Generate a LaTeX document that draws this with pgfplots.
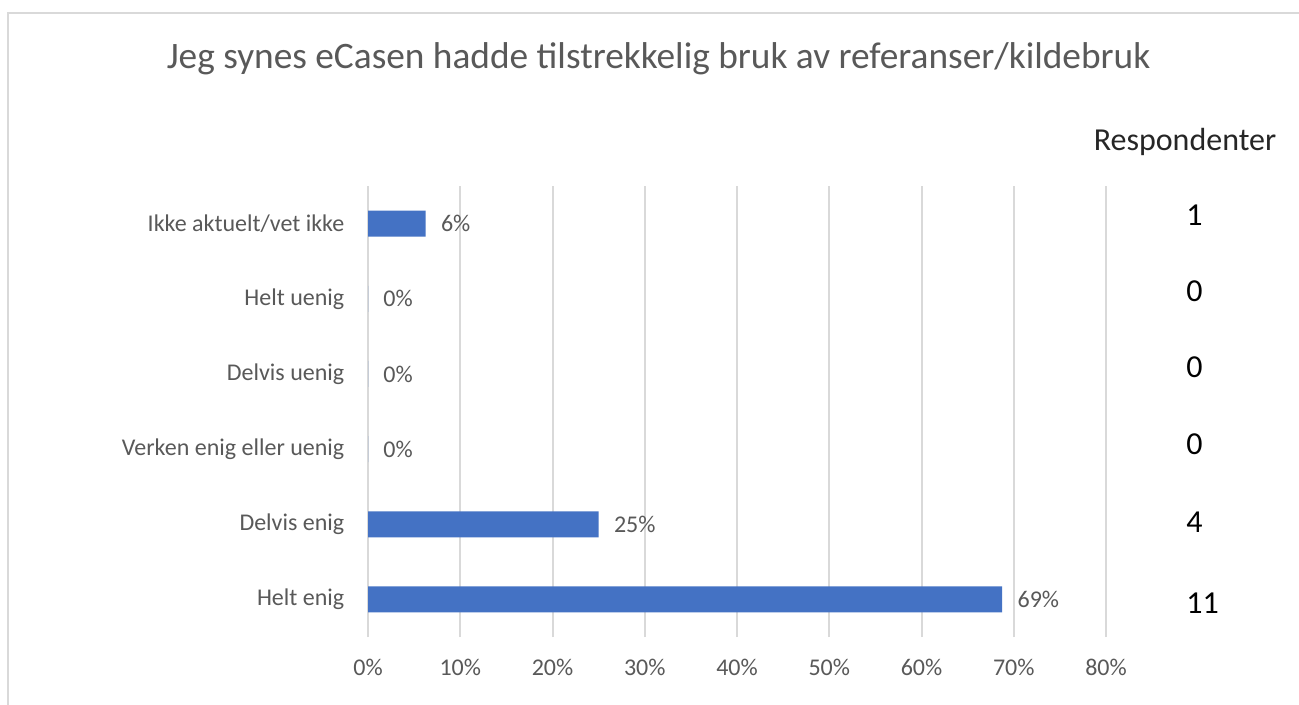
\documentclass[border=0pt]{standalone}
\usepackage{pgfplots}
\pgfplotsset{compat=1.18}
\usepackage{fontspec}
\setmainfont{Carlito}
\definecolor{barblue}{HTML}{4472C4}
\definecolor{txtgray}{HTML}{595959}
\definecolor{gridgray}{HTML}{D9D9D9}
\begin{document}
\begin{tikzpicture}[x=0.75pt,y=0.75pt]
\useasboundingbox (0,0) rectangle (1299,704);
\fill[white] (0,0) rectangle (1299,704);
\draw[gridgray, line width=1.5] (8,-5) -- (8,691) -- (1305,691);
\node[txtgray, font=\fontsize{28}{33}\selectfont] at (658.5,645) {Jeg synes eCasen hadde tilstrekkelig bruk av referanser/kildebruk};
\node[black!85, font=\fontsize{24}{28}\selectfont] at (1185,562) {Respondenter};
\begin{axis}[
  at={(276pt,50.25pt)}, anchor=south west,
  scale only axis, width=553.5pt, height=338.25pt,
  xmin=0, xmax=80, ymin=-0.5, ymax=5.5,
  xbar, bar width=19.5pt,
  axis line style={draw=none}, major tick style={draw=none},
  xmajorgrids, grid style={gridgray, line width=1.5pt},
  xtick={0,10,...,80},
  xticklabel={\pgfmathprintnumber{\tick}\%},
  ytick={0,...,5},
  yticklabels={Helt enig, Delvis enig, Verken enig eller uenig, Delvis uenig, Helt uenig, Ikke aktuelt/vet ikke},
  /pgf/number format/assume math mode=true,
  tick label style={txtgray, font=\fontsize{18}{22}\selectfont},
  xticklabel style={yshift=-13pt},
  yticklabel style={xshift=-10pt},
  nodes near coords={\pgfmathprintnumber[fixed,precision=0]{\pgfplotspointmeta}\%},
  nodes near coords style={txtgray, font=\fontsize{18}{22}\selectfont, xshift=8pt},
  point meta=x,
  clip=false,
]
\addplot[draw=none, fill=barblue] coordinates {
 (68.75,0) (25,1) (0,2) (0,3) (0,4) (6.25,5)
};
\end{axis}
\begin{scope}[font=\fontsize{24}{28}\selectfont]
\node[anchor=west, inner sep=0] at (1186,489) {1};
\node[anchor=west, inner sep=0] at (1186,413) {0};
\node[anchor=west, inner sep=0] at (1186,337) {0};
\node[anchor=west, inner sep=0] at (1186,260) {0};
\node[anchor=west, inner sep=0] at (1186,182) {4};
\node[anchor=west, inner sep=0] at (1186,101) {11};
\end{scope}
\end{tikzpicture}
\end{document}
